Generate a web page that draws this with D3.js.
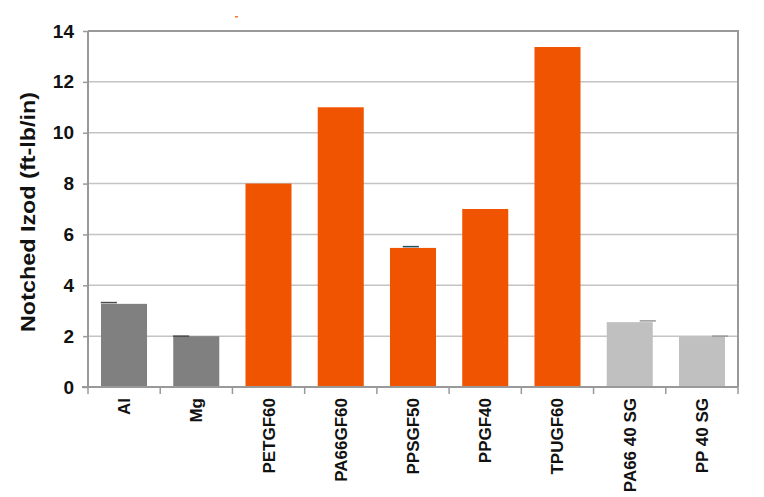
<!DOCTYPE html>
<html><head><meta charset="utf-8">
<script src="https://cdn.jsdelivr.net/npm/d3@7"></script>
<style>body{margin:0;background:#fff}svg{display:block}</style>
</head><body>
<script>
const categories = ["Al","Mg","PETGF60","PA66GF60","PPSGF50","PPGF40","TPUGF60","PA66 40 SG","PP 40 SG"];
const values = [3.27, 2.0, 8.0, 11.0, 5.47, 7.0, 13.37, 2.55, 2.0];
const groups = ["metal","metal","gf","gf","gf","gf","gf","sg","sg"];
const capValues = [3.32, 2.0, null, null, 5.52, null, null, 2.6, 2.0];
const capOffsets = [-0.21, -0.21, 0, 0, -0.03, 0, 0, 0.25, 0.25];
const yTicks = [0,2,4,6,8,10,12,14];
const colors = {metal:"#808080", gf:"#F05400", sg:"#C0C0C0"};
const capColors = ["#4a4a4a","#4a4a4a",null,null,"#1F4E5F",null,null,"#999999","#999999"];

const W=764,H=497, L=88, R=738, T=31, B=387;
const svg=d3.select("body").append("svg").attr("width",W).attr("height",H);
const x=d3.scaleBand().domain(categories).range([L,R]).paddingInner(0.363).paddingOuter(0.18);
const xb=d3.scaleBand().domain(categories).range([L,R]);
const y=d3.scaleLinear().domain([0,14]).range([B,T]);
const font="'Liberation Sans', Arial, sans-serif";

// gridlines
svg.append("g").selectAll("line").data(yTicks.filter(d=>d>0&&d<14)).join("line")
  .attr("x1",L).attr("x2",R).attr("y1",d=>y(d)).attr("y2",d=>y(d))
  .attr("stroke","#C4C4C4").attr("stroke-width",1.5);
// frame top & right
svg.append("path").attr("d",`M${L},${y(14)}H${R}V${B}`).attr("fill","none")
  .attr("stroke","#999").attr("stroke-width",2);

// bars
svg.append("g").selectAll("rect").data(categories).join("rect")
  .attr("x",d=>x(d)).attr("width",x.bandwidth())
  .attr("y",(d,i)=>y(values[i])).attr("height",(d,i)=>y(0)-y(values[i]))
  .attr("fill",(d,i)=>colors[groups[i]]);

// caps
const capW = x.bandwidth()*0.35;
svg.append("g").selectAll("line").data(categories.map((c,i)=>({c,i})).filter(d=>capValues[d.i]!=null)).join("line")
  .attr("x1",d=>x(d.c)+x.bandwidth()/2+capOffsets[d.i]*xb.bandwidth()-capW/2)
  .attr("x2",d=>x(d.c)+x.bandwidth()/2+capOffsets[d.i]*xb.bandwidth()+capW/2)
  .attr("y1",d=>y(capValues[d.i])).attr("y2",d=>y(capValues[d.i]))
  .attr("stroke",d=>capColors[d.i]).attr("stroke-width",1.5);

// y axis
const ya=svg.append("g").attr("transform",`translate(${L},0)`)
  .call(d3.axisLeft(y).tickValues(yTicks).tickSize(5).tickPadding(9).tickFormat(d3.format("d")));
ya.select(".domain").attr("stroke","#999").attr("stroke-width",2).attr("d",`M0,${T}V${B}`);
ya.selectAll(".tick line").attr("stroke","#999").attr("stroke-width",1.5);
ya.selectAll(".tick text").attr("font-family",font).attr("font-weight","bold").attr("font-size",19).attr("fill","#111");

// x axis
const xa=svg.append("g").attr("transform",`translate(0,${B})`)
  .call(d3.axisBottom(xb).tickSize(0).tickFormat(""));
xa.select(".domain").attr("stroke","#999").attr("stroke-width",2).attr("d",`M${L-6},0H${R}`);
svg.append("g").selectAll("line").data(categories.concat(["_end"])).join("line")
  .attr("x1",(d,i)=>i<categories.length?xb(d):R).attr("x2",(d,i)=>i<categories.length?xb(d):R)
  .attr("y1",B).attr("y2",B+7).attr("stroke","#999").attr("stroke-width",1.5);
svg.append("g").selectAll("text").data(categories).join("text")
  .attr("transform",d=>`translate(${xb(d)+xb.bandwidth()/2+6},${B+11}) rotate(-90)`)
  .attr("text-anchor","end").attr("font-family",font).attr("font-weight","bold")
  .attr("font-size",17).attr("fill","#111").text(d=>d);

// y title
svg.append("text").attr("transform",`translate(35,212) rotate(-90)`)
  .attr("text-anchor","middle").attr("font-family",font).attr("font-weight","bold")
  .attr("font-size",21).attr("fill","#111")
  .attr("textLength",240).attr("lengthAdjust","spacingAndGlyphs")
  .text("Notched Izod (ft-lb/in)");

// tiny orange artifact
svg.append("rect").attr("x",235).attr("y",16).attr("width",3).attr("height",1.5).attr("fill","#F07830");
</script>
</body></html>
